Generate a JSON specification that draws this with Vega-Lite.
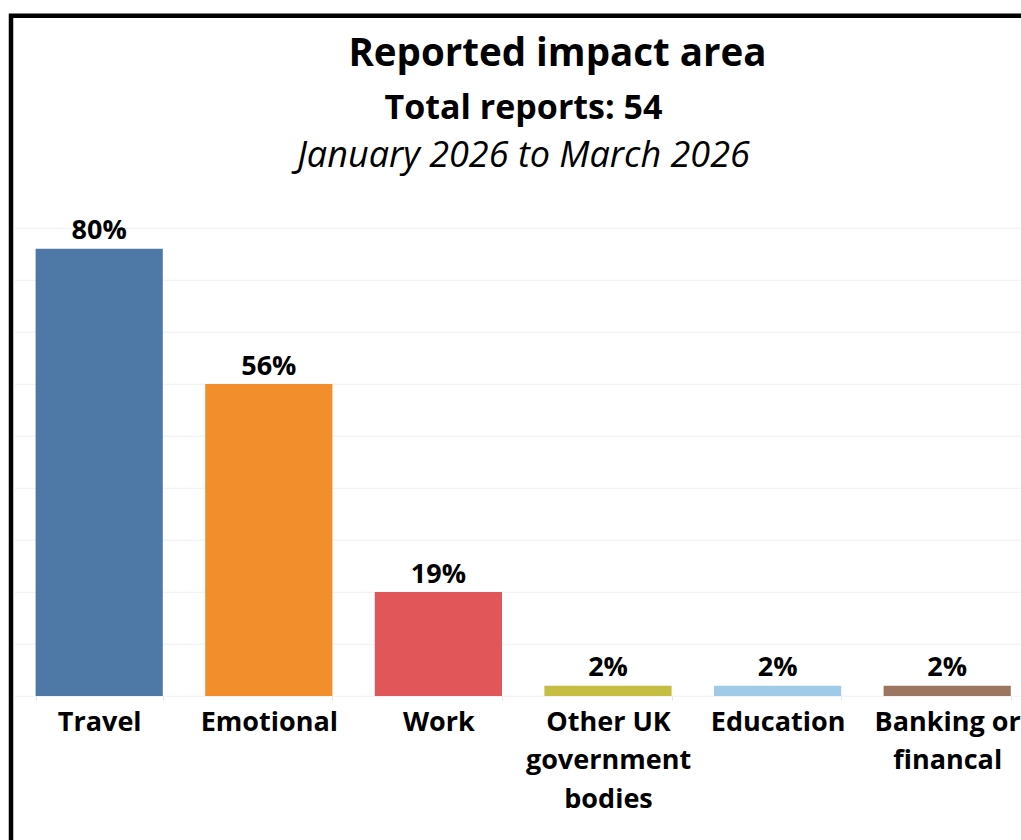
{
  "$schema": "https://vega.github.io/schema/vega-lite/v6.json",
  "background": "white",
  "padding": {"left": 8, "top": 12.75, "right": 0, "bottom": 0},
  "title": {
    "text": "Reported impact area",
    "anchor": "middle",
    "frame": "group",
    "offset": -61,
    "dx": 34,
    "font": "Open Sans",
    "fontSize": 38.5,
    "fontWeight": "bold",
    "color": "#000000"
  },
  "data": {
    "values": [
      {"area": "Travel", "count": 43, "pct": "80%"},
      {"area": "Emotional", "count": 30, "pct": "56%"},
      {"area": "Work", "count": 10, "pct": "19%"},
      {"area": "Other UK government bodies", "count": 1, "pct": "2%"},
      {"area": "Education", "count": 1, "pct": "2%"},
      {"area": "Banking or financal", "count": 1, "pct": "2%"}
    ]
  },
  "vconcat": [
    {
      "width": 1025,
      "height": 840,
      "title": {
        "text": "Total reports: 54",
        "subtitle": "January 2026 to March 2026",
        "anchor": "middle",
        "frame": "group",
        "offset": -158.5,
        "font": "Open Sans",
        "fontSize": 34,
        "fontWeight": "bold",
        "color": "#000000",
        "subtitleFont": "Open Sans",
        "subtitleFontSize": 36,
        "subtitleFontStyle": "italic",
        "subtitleFontWeight": "normal",
        "subtitleColor": "#000000",
        "subtitlePadding": 13.5
      },
      "encoding": {
        "x": {
          "field": "area",
          "type": "nominal",
          "sort": null,
          "scale": {"range": [3.4, 1021], "paddingInner": 0.25, "paddingOuter": 0.125},
          "axis": {
            "title": null,
            "orient": "bottom",
            "offset": -159.7,
            "domain": false,
            "grid": false,
            "ticks": true,
            "tickBand": "extent",
            "tickColor": "#e3e3e3",
            "tickSize": 4,
            "labelAngle": 0,
            "labelPadding": 9,
            "labelFont": "Open Sans",
            "labelFontSize": 27,
            "labelFontWeight": "bold",
            "labelColor": "#000000",
            "labelLineHeight": 38.5,
            "labelOverlap": false,
            "labelLimit": 400,
            "labelExpr": "datum.value == 'Other UK government bodies' ? ['Other UK', 'government', 'bodies'] : datum.value == 'Banking or financal' ? ['Banking or', 'financal'] : datum.label"
          }
        },
        "y": {
          "field": "count",
          "type": "quantitative",
          "scale": {"domain": [0, 45], "range": [680.3, 212.3]},
          "axis": {
            "title": null,
            "values": [0, 5, 10, 15, 20, 25, 30, 35, 40, 45],
            "labels": false,
            "ticks": false,
            "domain": false,
            "grid": true,
            "gridColor": "#efefef",
            "gridWidth": 1
          }
        }
      },
      "layer": [
        {
          "mark": {"type": "bar"},
          "encoding": {
            "y2": {"datum": 0},
            "color": {
              "field": "area",
              "type": "nominal",
              "sort": null,
              "scale": {
                "domain": ["Travel", "Emotional", "Work", "Other UK government bodies", "Education", "Banking or financal"],
                "range": ["#4e79a7", "#f28e2b", "#e15759", "#c6bd43", "#a0cbe8", "#9d7660"]
              },
              "legend": null
            }
          }
        },
        {
          "mark": {
            "type": "text",
            "baseline": "alphabetic",
            "dy": -9.4,
            "font": "Open Sans",
            "fontSize": 27,
            "fontWeight": "bold",
            "color": "#000000"
          },
          "encoding": {
            "text": {"field": "pct", "type": "nominal"}
          }
        }
      ]
    }
  ],
  "config": {
    "view": {"stroke": "#000000", "strokeWidth": 4.5},
    "font": "Open Sans"
  }
}
